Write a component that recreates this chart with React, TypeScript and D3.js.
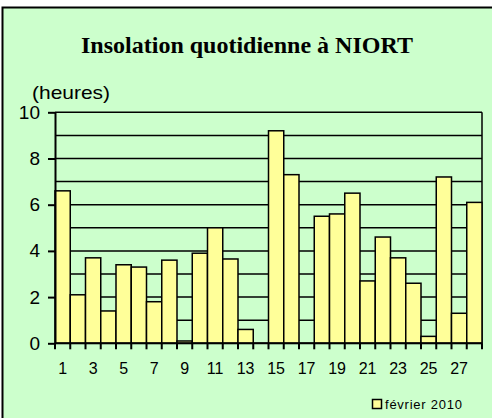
import React, { useEffect, useRef } from 'react';
import * as d3 from 'd3';

const days = d3.range(1, 29);
const hours = [6.6, 2.1, 3.7, 1.4, 3.4, 3.3, 1.8, 3.6, 0.1, 3.9, 5.0, 3.65, 0.6, 0,
  9.2, 7.3, 0, 5.5, 5.6, 6.5, 2.7, 4.6, 3.7, 2.6, 0.3, 7.2, 1.3, 6.1];
const yTicks = [0, 2, 4, 6, 8, 10];
const gridValues = d3.range(0, 11);
const title = 'Insolation quotidienne à NIORT';
const yLabel = '(heures)';
const seriesName = 'février 2010';

const App = () => {
  const svgRef = useRef<SVGSVGElement>(null);

  useEffect(() => {
    const width = 492;
    const height = 418;
    const margin = { left: 55, right: 10, top: 112.3, bottom: 74.7 };

    const svg = d3.select(svgRef.current)
      .attr('width', width)
      .attr('height', height);
    svg.selectAll('*').remove();

    // frame (right and bottom edges fall outside the picture)
    svg.append('rect')
      .attr('x', 2.5).attr('y', 7.5)
      .attr('width', width + 10).attr('height', height + 10)
      .attr('fill', '#CCFFCC')
      .attr('stroke', '#000')
      .attr('stroke-width', 2);

    const x = d3.scaleBand<number>()
      .domain(days)
      .range([margin.left, width - margin.right])
      .padding(0);
    const y = d3.scaleLinear()
      .domain([0, 10])
      .range([height - margin.bottom, margin.top]);

    // gridlines
    svg.append('g')
      .selectAll('line')
      .data(gridValues)
      .enter()
      .append('line')
      .attr('x1', margin.left).attr('x2', width - margin.right)
      .attr('y1', d => y(d)).attr('y2', d => y(d))
      .attr('stroke', '#000')
      .attr('stroke-width', 1.5);

    svg.append('line')
      .attr('x1', width - margin.right).attr('x2', width - margin.right)
      .attr('y1', y(10)).attr('y2', y(0))
      .attr('stroke', '#000')
      .attr('stroke-width', 1.5);

    // bars
    svg.append('g')
      .selectAll('rect')
      .data(hours.map((v, i) => ({ day: days[i], v })).filter(d => d.v > 0))
      .enter()
      .append('rect')
      .attr('x', d => x(d.day)!)
      .attr('y', d => y(d.v))
      .attr('width', x.bandwidth())
      .attr('height', d => y(0) - y(d.v))
      .attr('fill', '#FFFF99')
      .attr('stroke', '#000')
      .attr('stroke-width', 1.5);

    // y axis
    const yAxis = svg.append('g')
      .attr('transform', `translate(${margin.left},0)`)
      .call(d3.axisLeft(y).tickValues(yTicks).tickSize(7).tickSizeOuter(0).tickPadding(8));
    yAxis.select('.domain').attr('stroke', '#000').attr('stroke-width', 2);
    yAxis.selectAll('.tick line').attr('stroke', '#000').attr('stroke-width', 2);
    yAxis.selectAll('.tick text')
      .attr('font-family', 'Arial, "Liberation Sans", sans-serif')
      .attr('font-size', 19)
      .attr('fill', '#000');

    // x axis
    const xg = svg.append('g').attr('transform', `translate(0,${y(0)})`);
    xg.append('line')
      .attr('x1', margin.left).attr('x2', width - margin.right)
      .attr('stroke', '#000').attr('stroke-width', 2);
    xg.selectAll('line.tk')
      .data([...days.map(d => x(d)!), width - margin.right])
      .enter()
      .append('line')
      .attr('class', 'tk')
      .attr('x1', d => d).attr('x2', d => d)
      .attr('y1', 0).attr('y2', 6)
      .attr('stroke', '#000').attr('stroke-width', 2);
    xg.selectAll('text')
      .data(days.filter(d => d % 2 === 1))
      .enter()
      .append('text')
      .attr('x', d => x(d)! + x.bandwidth() / 2)
      .attr('y', 31)
      .attr('text-anchor', 'middle')
      .attr('font-family', 'Arial, "Liberation Sans", sans-serif')
      .attr('font-size', 16)
      .text(d => d);

    // y label
    svg.append('text')
      .attr('x', 32).attr('y', 99)
      .attr('font-family', 'Arial, "Liberation Sans", sans-serif')
      .attr('font-size', 19)
      .attr('textLength', 78)
      .attr('lengthAdjust', 'spacingAndGlyphs')
      .text(yLabel);

    // title
    svg.append('text')
      .attr('x', 247).attr('y', 53)
      .attr('text-anchor', 'middle')
      .attr('font-family', '"Times New Roman", "Liberation Serif", serif')
      .attr('font-weight', 'bold')
      .attr('font-size', 24)
      .text(title);

    // legend
    svg.append('rect')
      .attr('x', 372.5).attr('y', 399.5)
      .attr('width', 9).attr('height', 9)
      .attr('fill', '#FFFF99')
      .attr('stroke', '#000')
      .attr('stroke-width', 1.5);
    svg.append('text')
      .attr('x', 385).attr('y', 409)
      .attr('font-family', 'Arial, "Liberation Sans", sans-serif')
      .attr('font-size', 13)
      .attr('textLength', 77)
      .text(seriesName);
  }, []);

  return (
    <svg ref={svgRef} style={{ position: 'absolute', left: 0, top: 0 }}></svg>
  );
};

export default App;
